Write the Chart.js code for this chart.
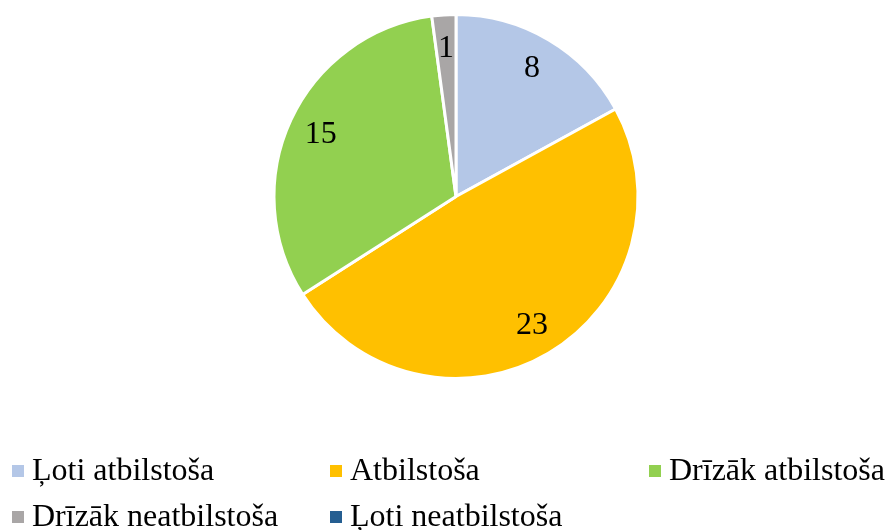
<!DOCTYPE html>
<html>
<head>
<meta charset="utf-8">
<script src="https://cdn.jsdelivr.net/npm/chart.js@4"></script>
<style>
  html, body { margin: 0; padding: 0; background: #fff; }
  #wrap { width: 887px; height: 530px; }
</style>
</head>
<body>
<div id="wrap"><canvas id="pieChart" width="887" height="530"></canvas></div>
<script>
// data
const categories = ["Ļoti atbilstoša", "Atbilstoša", "Drīzāk atbilstoša", "Drīzāk neatbilstoša", "Ļoti neatbilstoša"];
const counts = [8, 23, 15, 1, 0];
const sliceColors = ["#B4C7E7", "#FFC000", "#92D050", "#A9A6A6", "#255E91"];

const FONT = "'Liberation Serif', 'Times New Roman', serif";

// value labels inside each slice
const valueLabels = {
    id: "valueLabels",
    afterDatasetsDraw(chart) {
        const ctx = chart.ctx;
        const meta = chart.getDatasetMeta(0);
        ctx.save();
        ctx.font = "32px " + FONT;
        ctx.fillStyle = "#000";
        ctx.textAlign = "center";
        ctx.textBaseline = "middle";
        meta.data.forEach((arc, i) => {
            if (!counts[i]) return;
            const mid = (arc.startAngle + arc.endAngle) / 2;
            const r = arc.outerRadius * 0.82;
            ctx.fillText(String(counts[i]), arc.x + Math.cos(mid) * r, arc.y + Math.sin(mid) * r + 1);
        });
        ctx.restore();
    }
};

// legend laid out in fixed columns like the original
const gridLegend = {
    id: "gridLegend",
    afterDraw(chart) {
        const ctx = chart.ctx;
        const cols = [12, 330, 649];
        const rows = [471, 517];
        ctx.save();
        ctx.font = "32px " + FONT;
        ctx.textBaseline = "middle";
        categories.forEach((label, i) => {
            const x = cols[i % 3];
            const y = rows[Math.floor(i / 3)];
            ctx.fillStyle = sliceColors[i];
            ctx.fillRect(x, y - 6, 12, 12);
            ctx.fillStyle = "#000";
            ctx.fillText(label, x + 20, y + 1);
        });
        ctx.restore();
    }
};

new Chart(document.getElementById("pieChart"), {
    type: "pie",
    data: {
        labels: categories,
        datasets: [{
            data: counts,
            backgroundColor: sliceColors,
            borderColor: "#ffffff",
            borderWidth: 3,
            hoverOffset: 0
        }]
    },
    options: {
        responsive: false,
        animation: false,
        layout: { padding: { top: 13, bottom: 150, left: 25, right: 0 } },
        plugins: {
            legend: { display: false },
            tooltip: { enabled: false }
        }
    },
    plugins: [valueLabels, gridLegend]
});
</script>
</body>
</html>
